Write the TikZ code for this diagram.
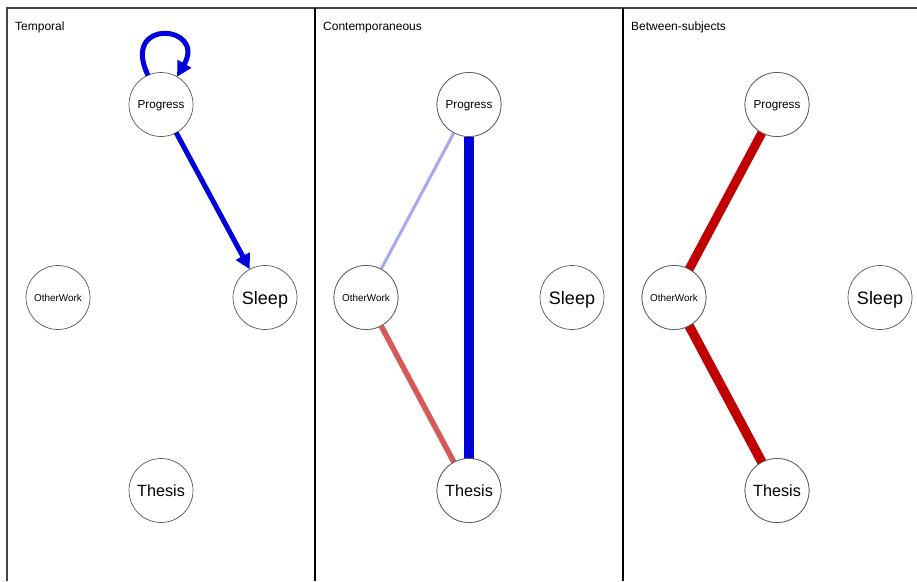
\documentclass[tikz,border=0pt]{standalone}
\usepackage{fontspec}
\setmainfont{Liberation Sans}
\usetikzlibrary{arrows.meta}
\definecolor{eblue}{HTML}{0000DD}
\definecolor{lblue}{HTML}{A8A8F0}
\definecolor{lred}{HTML}{D65A5A}
\definecolor{dred}{HTML}{C00000}
\definecolor{frame}{HTML}{444444}
\tikzset{
  vnode/.style={circle,draw=black!65,line width=0.7pt,fill=white,minimum size=64pt,inner sep=0pt,outer sep=0pt,text depth=0pt},
  vlabel/.style={inner sep=0pt,text depth=0pt},
  ptitle/.style={anchor=west,inner sep=0pt,font=\fontsize{12}{12}\selectfont},
  tip/.style={-{Triangle[length=15pt,width=15pt]}}
}
\begin{document}
\begin{tikzpicture}[x=1pt,y=-1pt]
\useasboundingbox (0,0) rectangle (917,581);
% frame
\draw[frame,line width=1.3pt] (7,581) -- (7,8) -- (917,8);
\draw[black,line width=1.5pt] (315,8) -- (315,581);
\draw[black,line width=1.5pt] (623,8) -- (623,581);
% titles
\node[ptitle] (t1) at (15,27.5) {Temporal};
\node[ptitle] (t2) at (323,27.5) {Contemporaneous};
\node[ptitle] (t3) at (631,27.5) {Between-subjects};
% panel 1 nodes
\node[vnode,font=\fontsize{11.7}{12}\selectfont] (p1) at (161,104.5) {Progress};
\node[vnode,font=\fontsize{9.9}{10}\selectfont] (o1) at (58,297.5) {OtherWork};
\node[vnode,font=\fontsize{18}{18}\selectfont] (s1) at (265,297.5) {Sleep};
\node[vnode,font=\fontsize{16.2}{16}\selectfont] (th1) at (161,490.5) {Thesis};
% panel 2 nodes
\node[vnode,font=\fontsize{11.7}{12}\selectfont] (p2) at (469,104.5) {Progress};
\node[vnode,font=\fontsize{9.9}{10}\selectfont] (o2) at (366,297.5) {OtherWork};
\node[vnode,font=\fontsize{18}{18}\selectfont] (s2) at (572,297.5) {Sleep};
\node[vnode,font=\fontsize{16.2}{16}\selectfont] (th2) at (469,490.5) {Thesis};
% panel 3 nodes
\node[vnode,font=\fontsize{11.7}{12}\selectfont] (p3) at (777,104.5) {Progress};
\node[vnode,font=\fontsize{9.9}{10}\selectfont] (o3) at (674,297.5) {OtherWork};
\node[vnode,font=\fontsize{18}{18}\selectfont] (s3) at (880,297.5) {Sleep};
\node[vnode,font=\fontsize{16.2}{16}\selectfont] (th3) at (777,490.5) {Thesis};
% panel 1 edges
\draw[eblue,line width=5pt,tip] (p1) -- (s1);
\draw[eblue,line width=5pt,tip] (p1.114) .. controls +(-28,-58) and +(30,-52) .. (p1.60);
% panel 2 edges
\draw[lblue,line width=3pt] (p2) -- (o2);
\draw[lred,line width=5.5pt] (o2) -- (th2);
\draw[eblue,line width=10pt] (p2) -- (th2);
% panel 3 edges
\draw[dred,line width=9pt] (p3) -- (o3);
\draw[dred,line width=9.5pt] (o3) -- (th3);
% redraw nodes on top of lines
\foreach \n in {p2,o2,th2,p3,o3,th3}{
  \draw[black!65,line width=0.7pt,fill=white] (\n.center) circle (32pt);
}
\node[vlabel,font=\fontsize{11.7}{12}\selectfont] (p2l) at (p2.center) {Progress};
\node[vlabel,font=\fontsize{9.9}{10}\selectfont] (o2l) at (o2.center) {OtherWork};
\node[vlabel,font=\fontsize{16.2}{16}\selectfont] (th2l) at (th2.center) {Thesis};
\node[vlabel,font=\fontsize{11.7}{12}\selectfont] (p3l) at (p3.center) {Progress};
\node[vlabel,font=\fontsize{9.9}{10}\selectfont] (o3l) at (o3.center) {OtherWork};
\node[vlabel,font=\fontsize{16.2}{16}\selectfont] (th3l) at (th3.center) {Thesis};
\end{tikzpicture}
\end{document}
